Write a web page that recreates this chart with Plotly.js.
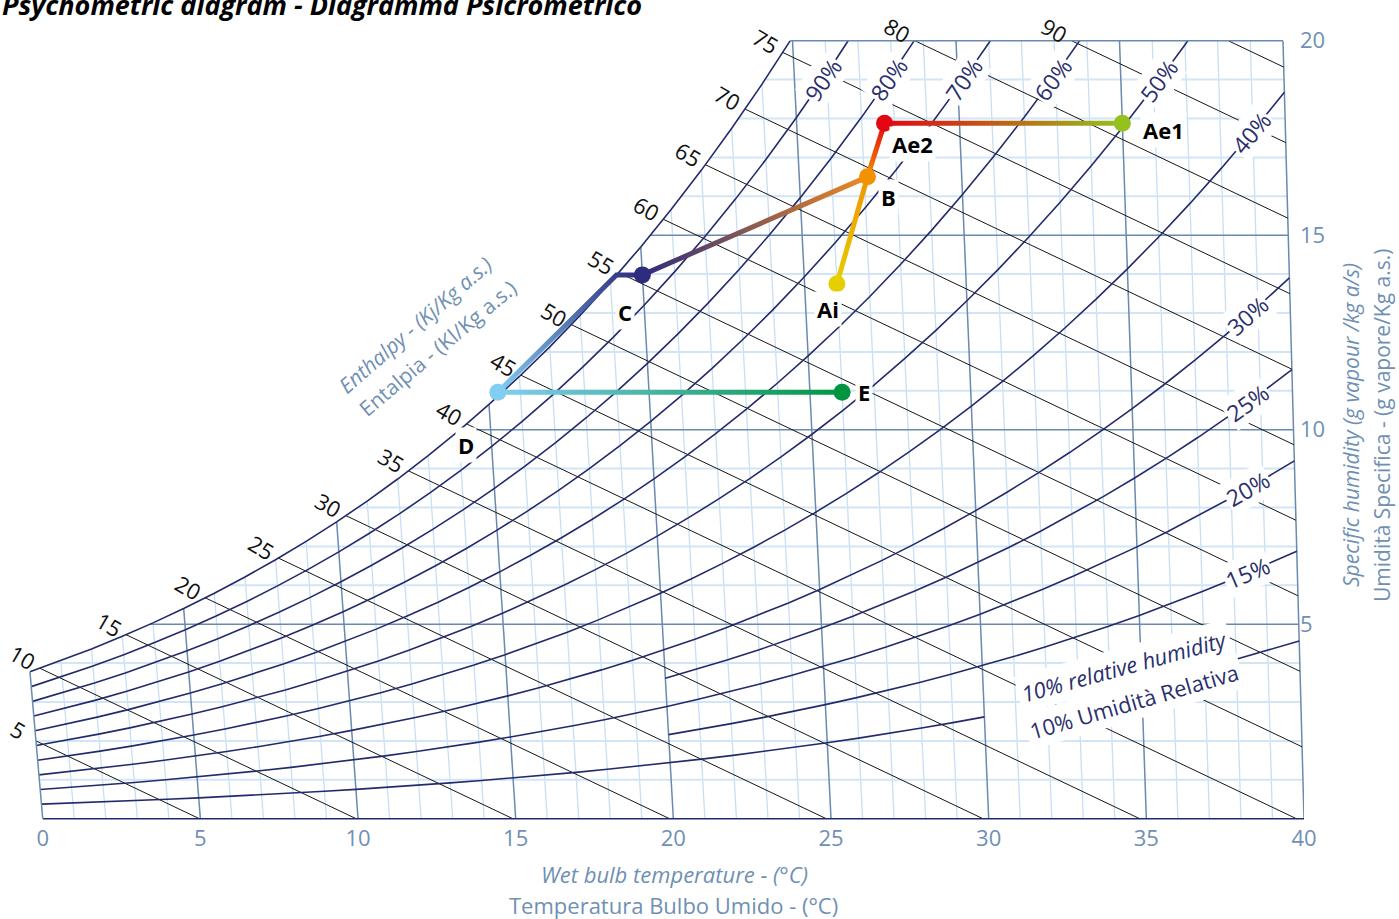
<!DOCTYPE html>
<html>
<head>
<meta charset="utf-8">
<title>Psychometric diagram</title>
<script src="https://cdn.plot.ly/plotly-3.0.1.min.js"></script>
<style>
html,body{margin:0;padding:0;background:#ffffff;overflow:hidden;}
#chart{width:1399px;height:919px;}
</style>
</head>
<body>
<div id="chart"></div>
<script>
// ================= DATA =================
// Dry-bulb temperature scale (°C) and the saturation vapour pressure table (kPa) the curves are built on
const tempC = [0,1,2,3,4,5,6,7,8,9,10,11,12,13,14,15,16,17,18,19,20,21,22,23,24,25,26,27,28,29,30,31,32,33,34,35,36,37,38,39,40];
const satPressureKPa = [0.6113,0.6571,0.7060,0.7581,0.8135,0.8726,0.9354,1.0021,1.0730,1.1482,1.2282,1.3129,1.4028,1.4981,1.5989,1.7057,1.8188,1.9383,2.0647,2.1982,2.3392,2.4881,2.6452,2.8109,2.9856,3.1697,3.3637,3.5679,3.7828,4.0089,4.2467,4.4966,4.7592,5.0351,5.3247,5.6286,5.9475,6.2818,6.6324,6.9997,7.3844];
// Axis ticks
const tempTicks = [0,5,10,15,20,25,30,35,40];
const humidityTicks = [5,10,15,20];
// Relative humidity curves (%) and their labels
const rhLevels = [90,80,70,60,50,40,30,25,20,15,10,0];
const rhLabelLevels = [90,80,70,60,50,40,30,25,20,15];
const rhLabelText = ['90%','80%','70%','60%','50%','40%','30%','25%','20%','15%'];
// Enthalpy lines (kJ/kg) and the labels printed on them
const enthalpyLevels = [5,10,15,20,25,30,35,40,45,50,55,60,65,70,75,80,85,90];
const enthalpyLabelLines = [5,10,15,20,25,30,35,40,45,50,55,60,65,70,75,80,85];
const enthalpyLabelText = ['5','10','15','20','25','30','35','40','45','50','55','60','65','70','75','80','90'];
// Process states: dry bulb (°C) and specific humidity (g/kg)
const pointNames = ['Ae1','Ae2','B','Ai','C','D','E'];
const pointDryBulb = [35.0,27.7,27.1,26.0,20.0,15.3,26.0];
const pointHumidity = [17.88,17.88,16.5,13.75,13.98,10.96,10.96];
// Bend of the C -> D path where it meets the saturation line
const bendDryBulb = [19.2];
const bendHumidity = [13.98];
const processPaths = [['Ae1','Ae2'],['Ae2','B'],['B','C'],['B','Ai'],['C','bend','D'],['D','E']];

// ================= STYLE / GEOMETRY =================
const FONT = 'Open Sans, Noto Sans, DejaVu Sans, sans-serif';
const AXIS_BLUE = '#6f90b3';
const NAVY = '#232a6c';
const W = 1399, H = 919;
const MARGIN = {l:0, r:95, t:0, b:96, pad:0};
const plotW = W - MARGIN.l - MARGIN.r, plotH = H - MARGIN.t - MARGIN.b;
const xRange = [-1.355, 40], yRange = [-0.11, 21.046];
const sx = plotW / (xRange[1]-xRange[0]);
const sy = plotH / (yRange[1]-yRange[0]);
const pointColors = {Ae1:'#95c11f', Ae2:'#e30613', B:'#f39200', Ai:'#e6cf00', C:'#2e2c7e', D:'#82cdf2', E:'#009540'};
const pathColors = [['#95c11f','#e30613'],['#e30613','#f39200'],['#ee8a22','#2e2c7e'],['#f39200','#e6cf00'],['#2e2c7e','#82cdf2'],['#82cdf2','#009540']];
const pointLabelShift = {Ae1:[41,-7], Ae2:[28,-21], B:[21,-20], Ai:[-9,-25], C:[-17,-37], D:[-32,-53], E:[22,0]};
const rhSpans = {25:[[20,40]], 15:[[20,40]], 10:[[0,30],[38,40]]};
const rhLabelAnchor = {90:{w:19.0},80:{w:19.0},70:{w:19.0},60:{w:19.0},50:{w:18.97},40:{w:17.62},30:{x:38.2},25:{x:38.2},20:{x:38.2},15:{x:38.2}};

// Psychrometric relations (sea level) and the chart's oblique projection
const P_ATM = 101.325, SKEW_A = -0.1073, SKEW_B = 0.00185;
function chartX(T, w){ return T + w*(SKEW_A + SKEW_B*T); }
function humidityRatio(ps, rh){ const pv = ps*rh/100; return 622*pv/(P_ATM - pv); }
function enthalpy(T, w){ return 1.006*T + w*(2.501 + 0.00186*T); }
function tOnEnthalpy(h, w){ return (h - 2.501*w)/(1.006 + 0.00186*w); }
const wMax = humidityTicks[humidityTicks.length-1];
const tMin = tempTicks[0], tMax = tempTicks[tempTicks.length-1];
const satW = satPressureKPa.map(p => humidityRatio(p, 100));
const satH = tempC.map((T,i) => enthalpy(T, satW[i]));

function polyline(xs, ys, color, width){
  return {type:'scatter', mode:'lines', x:xs, y:ys, line:{color:color, width:width}, hoverinfo:'skip', showlegend:false};
}
function rhCurvePoints(rh, t0, t1){
  const xs = [], ys = [];
  for (let i=0;i<tempC.length;i++){
    const T = tempC[i];
    if (T < t0 || T > t1) continue;
    const w = humidityRatio(satPressureKPa[i], rh);
    xs.push(chartX(T, w)); ys.push(w);
    if (w > wMax) break;
  }
  return {x:xs, y:ys};
}

const data = [];
let mx = [], my = [];
// minor isotherms (every 1 °C)
for (let T=tMin+1; T<tMax; T++){ if (T%5===0) continue; mx.push(chartX(T,0), chartX(T,wMax), null); my.push(0, wMax, null); }
data.push(polyline(mx, my, '#c8dff3', 1.3));
// minor humidity lines (every 1 g/kg)
mx = []; my = [];
for (let w=1; w<wMax; w++){ if (w%5===0) continue; mx.push(xRange[0]-2, chartX(tMax,w), null); my.push(w, w, null); }
data.push(polyline(mx, my, '#d2e5f6', 2));
// major isotherms and humidity lines
mx = []; my = [];
tempTicks.forEach(T => { if (T===tMin) return; mx.push(chartX(T,0), chartX(T,wMax), null); my.push(0, wMax, null); });
humidityTicks.forEach(w => { if (w===wMax) return; mx.push(xRange[0]-2, chartX(tMax,w), null); my.push(w, w, null); });
data.push(polyline(mx, my, '#6a8aaf', 1.5));
// enthalpy lines
mx = []; my = [];
enthalpyLevels.forEach(h => {
  const w0 = Math.min(wMax, h/2.501);
  const T0 = tOnEnthalpy(h, w0);
  let T1, w1;
  if (h/1.006 <= tMax){ w1 = 0; T1 = h/1.006; } else { T1 = tMax; w1 = (h - 1.006*tMax)/(2.501 + 0.00186*tMax); }
  mx.push(chartX(T0,w0), chartX(T1,w1), null); my.push(w0, w1, null);
});
data.push(polyline(mx, my, '#151515', 1));
// relative humidity curves
mx = []; my = [];
rhLevels.forEach(rh => {
  (rhSpans[rh] || [[tMin,tMax]]).forEach(span => {
    const c = rhCurvePoints(rh, span[0], span[1]);
    mx.push(...c.x, null); my.push(...c.y, null);
  });
});
data.push(polyline(mx, my, NAVY, 1.6));
// white mask left of / above the saturation line
const maskX = [xRange[0]-3, 0, chartX(0,0)], maskY = [-1, -1, 0];
for (let i=0;i<tempC.length;i++){ maskX.push(chartX(tempC[i], satW[i])); maskY.push(satW[i]); if (satW[i] > wMax) break; }
maskX.push(maskX[maskX.length-1], xRange[0]-3); maskY.push(wMax+3, wMax+3);
data.push({type:'scatter', mode:'lines', x:maskX, y:maskY, fill:'toself', fillcolor:'#ffffff', line:{width:0, color:'#ffffff'}, hoverinfo:'skip', showlegend:false});
// saturation line
const sat = rhCurvePoints(100, tMin, tMax);
data.push(polyline(sat.x, sat.y, NAVY, 1.6));
// white mask above the top border
data.push({type:'scatter', mode:'lines', x:[xRange[0]-3, tMax+5, tMax+5, xRange[0]-3], y:[wMax, wMax, wMax+3, wMax+3], fill:'toself', fillcolor:'#ffffff', line:{width:0, color:'#ffffff'}, hoverinfo:'skip', showlegend:false});
// top border (from the saturation line) and 0 °C isotherm
let tTop = tMax;
for (let i=0;i<tempC.length-1;i++){ if (satW[i] <= wMax && satW[i+1] > wMax){ tTop = tempC[i] + (wMax - satW[i])/(satW[i+1]-satW[i]); break; } }
data.push(polyline([chartX(tTop,wMax), chartX(tMax,wMax), null, chartX(tMin,0), chartX(tMin,satW[0])], [wMax, wMax, null, 0, satW[0]], '#6a8aaf', 1.5));

// process paths
function pointXY(name){
  if (name === 'bend') return [chartX(bendDryBulb[0], bendHumidity[0]), bendHumidity[0]];
  const i = pointNames.indexOf(name);
  return [chartX(pointDryBulb[i], pointHumidity[i]), pointHumidity[i]];
}
const processTraceIdx = [];
processPaths.forEach((p,k) => {
  const pts = p.map(pointXY);
  data.push({type:'scatter', mode:'lines', x:pts.map(q=>q[0]), y:pts.map(q=>q[1]), line:{color:pathColors[k][0], width:5}, hoverinfo:'skip', showlegend:false});
  processTraceIdx.push(data.length-1);
});
// state points
data.push({type:'scatter', mode:'markers', x:pointNames.map(n=>pointXY(n)[0]), y:pointNames.map(n=>pointXY(n)[1]),
  marker:{size:17, color:pointNames.map(n=>pointColors[n]), line:{width:0}}, hoverinfo:'skip', showlegend:false});

// ================= ANNOTATIONS =================
const annotations = [];
function px2paperX(px){ return (px - MARGIN.l)/plotW; }
function px2paperY(py){ return 1 - (py - MARGIN.t)/plotH; }
function textAt(px, py, text, opts){
  return Object.assign({xref:'paper', yref:'paper', x:px2paperX(px), y:px2paperY(py), text:text, showarrow:false, xanchor:'center', yanchor:'middle'}, opts);
}
// title (partly above the top edge, as in the reference)
annotations.push({xref:'paper', yref:'paper', x:0, y:1, xanchor:'left', yanchor:'bottom', yshift:-25, showarrow:false,
  text:'<b><i>Psychometric diagram - Diagramma Psicrometrico</i></b>', font:{family:FONT, size:27, color:'#000000'}});
// axis titles
annotations.push(textAt(674, 874, '<i>Wet bulb temperature - (°C)</i>', {font:{family:FONT, size:22, color:AXIS_BLUE}}));
annotations.push(textAt(673, 905, 'Temperatura Bulbo Umido - (°C)', {font:{family:FONT, size:22, color:AXIS_BLUE}}));
annotations.push(textAt(1351, 425, '<i>Specific humidity (g vapour /kg a/s)</i>', {textangle:-90, font:{family:FONT, size:21, color:AXIS_BLUE}}));
annotations.push(textAt(1382, 426, 'Umidità Specifica - (g vapore/Kg a.s.)', {textangle:-90, font:{family:FONT, size:21, color:AXIS_BLUE}}));
annotations.push(textAt(415, 325, '<i>Enthalpy - (Kj/Kg a.s.)</i>', {textangle:-41, font:{family:FONT, size:21, color:AXIS_BLUE}}));
annotations.push(textAt(437.5, 348, 'Entalpia - (Kl/Kg a.s.)', {textangle:-40, font:{family:FONT, size:21, color:AXIS_BLUE}}));
annotations.push(textAt(1124, 666, '<i>10% relative humidity</i>', {textangle:-15.3, bgcolor:'#ffffff', borderpad:3, font:{family:FONT, size:22, color:'#2a2f6d'}}));
annotations.push(textAt(1134, 701, '10% Umidità Relativa', {textangle:-16.2, bgcolor:'#ffffff', borderpad:3, font:{family:FONT, size:22, color:'#2a2f6d'}}));

// enthalpy labels, placed just before the start of each line
function enthalpyLineStart(h){
  let T = null, w = null;
  if (h <= satH[0]){ w = h/2.501; T = 0; }
  else {
    for (let i=0;i<satH.length-1;i++){
      if (satH[i] < h && h <= satH[i+1]){ const f = (h-satH[i])/(satH[i+1]-satH[i]); T = tempC[i]+f; w = satW[i] + f*(satW[i+1]-satW[i]); break; }
    }
    if (w === null || w > wMax){ w = wMax; T = tOnEnthalpy(h, wMax); }
  }
  return [chartX(T,w), w];
}
enthalpyLabelLines.forEach((h,k) => {
  const s = enthalpyLineStart(h);
  annotations.push({x:s[0] - 17/sx, y:s[1] + 11/sy, text:enthalpyLabelText[k], showarrow:false, xanchor:'center', yanchor:'middle',
    textangle:30, font:{family:FONT, size:22, color:'#111111'}});
});

// relative humidity labels, sitting on their curves
rhLabelLevels.forEach((rh,k) => {
  const span = (rhSpans[rh] || [[tMin,tMax]]);
  const c = rhCurvePoints(rh, span[span.length-1][0], span[span.length-1][1]);
  const a = rhLabelAnchor[rh];
  for (let i=0;i<c.x.length-1;i++){
    let f = null;
    if (a.w !== undefined && c.y[i] <= a.w && c.y[i+1] >= a.w) f = (a.w - c.y[i])/(c.y[i+1]-c.y[i]);
    if (a.x !== undefined && c.x[i] <= a.x && c.x[i+1] >= a.x) f = (a.x - c.x[i])/(c.x[i+1]-c.x[i]);
    if (f !== null){
      const dx = (c.x[i+1]-c.x[i])*sx, dy = -(c.y[i+1]-c.y[i])*sy;
      annotations.push({x:c.x[i] + f*(c.x[i+1]-c.x[i]), y:c.y[i] + f*(c.y[i+1]-c.y[i]), text:rhLabelText[k], showarrow:false,
        xanchor:'center', yanchor:'middle', textangle:Math.atan2(dy, dx)*180/Math.PI, bgcolor:'#ffffff', borderpad:1,
        font:{family:FONT, size:23, color:'#2a2f6d'}});
      break;
    }
  }
});

// state point labels
pointNames.forEach(n => {
  const p = pointXY(n);
  annotations.push({x:p[0], y:p[1], xshift:pointLabelShift[n][0], yshift:pointLabelShift[n][1], text:'<b>'+n+'</b>', showarrow:false,
    xanchor:'center', yanchor:'middle', bgcolor:'#ffffff', borderpad:2, font:{family:FONT, size:22, color:'#000000'}});
});

const layout = {
  width:W, height:H, margin:MARGIN, paper_bgcolor:'#ffffff', plot_bgcolor:'#ffffff', showlegend:false, hovermode:false,
  font:{family:FONT},
  xaxis:{range:xRange, tickvals:tempTicks, ticktext:tempTicks.map(String), showgrid:false, zeroline:false, showline:false, ticks:'',
    tickfont:{family:FONT, size:22, color:AXIS_BLUE}, fixedrange:true},
  yaxis:{range:yRange, side:'right', tickvals:humidityTicks, ticktext:humidityTicks.map(String), showgrid:false, zeroline:false, showline:false, ticks:'',
    tickfont:{family:FONT, size:22, color:AXIS_BLUE}, ticklabelstandoff:-5, fixedrange:true},
  annotations:annotations
};

Plotly.newPlot('chart', data, layout, {staticPlot:true, displayModeBar:false}).then(function(gd){
  // colour gradients along the process lines
  const xa = gd._fullLayout.xaxis, ya = gd._fullLayout.yaxis;
  const NS = 'http://www.w3.org/2000/svg';
  const svg = gd.querySelector('svg.main-svg');
  let defs = svg.querySelector('defs');
  if (!defs){ defs = document.createElementNS(NS,'defs'); svg.insertBefore(defs, svg.firstChild); }
  const groups = gd.querySelectorAll('.scatterlayer .trace');
  processTraceIdx.forEach((ti,k) => {
    const tr = data[ti], n = tr.x.length;
    const g = document.createElementNS(NS,'linearGradient');
    g.setAttribute('id','procGrad'+k);
    g.setAttribute('gradientUnits','userSpaceOnUse');
    g.setAttribute('x1', xa.l2p(tr.x[0])); g.setAttribute('y1', ya.l2p(tr.y[0]));
    g.setAttribute('x2', xa.l2p(tr.x[n-1])); g.setAttribute('y2', ya.l2p(tr.y[n-1]));
    [[0,pathColors[k][0]],[1,pathColors[k][1]]].forEach(s => {
      const st = document.createElementNS(NS,'stop');
      st.setAttribute('offset', s[0]); st.setAttribute('stop-color', s[1]);
      g.appendChild(st);
    });
    defs.appendChild(g);
    const path = groups[ti] ? groups[ti].querySelector('path.js-line') : null;
    if (path) path.style.stroke = 'url(#procGrad'+k+')';
  });
});
</script>
</body>
</html>
